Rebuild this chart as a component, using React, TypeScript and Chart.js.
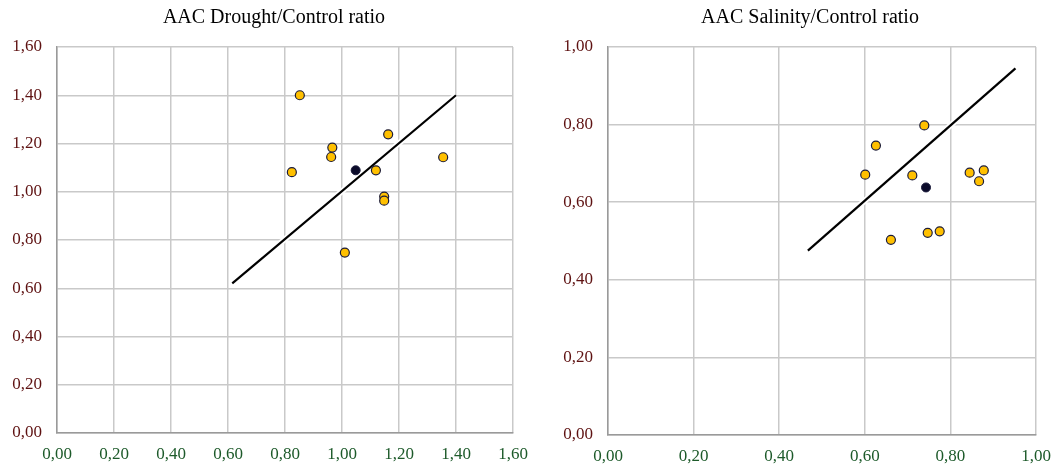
import React, { useEffect, useRef } from 'react';
import { Chart, registerables } from 'chart.js';

Chart.register(...registerables);

// ---------- Data ----------
const droughtTitle = 'AAC Drought/Control ratio';
const droughtX = [0.852, 1.162, 0.966, 0.962, 0.824, 1.119, 1.355, 1.148, 1.148, 1.01];
const droughtY = [1.4, 1.238, 1.183, 1.144, 1.081, 1.089, 1.143, 0.98, 0.963, 0.748];
const droughtMeanX = [1.048];
const droughtMeanY = [1.089];
const droughtTrendX = [0.615, 1.4];
const droughtTrendY = [0.62, 1.4];
const droughtTicks = [0, 0.2, 0.4, 0.6, 0.8, 1.0, 1.2, 1.4, 1.6];

const salinityTitle = 'AAC Salinity/Control ratio';
const salinityX = [0.739, 0.626, 0.601, 0.711, 0.845, 0.878, 0.867, 0.661, 0.747, 0.775];
const salinityY = [0.798, 0.746, 0.671, 0.669, 0.676, 0.682, 0.654, 0.503, 0.521, 0.525];
const salinityMeanX = [0.743];
const salinityMeanY = [0.638];
const salinityTrendX = [0.467, 0.952];
const salinityTrendY = [0.475, 0.945];
const salinityTicks = [0, 0.2, 0.4, 0.6, 0.8, 1.0];

const SERIF = "'Liberation Serif', 'Times New Roman', serif";

const zip = (xs: number[], ys: number[]) => xs.map((x, i) => ({ x, y: ys[i] }));
const fmt = (v: number) => Number(v).toFixed(2).replace('.', ',');

type PanelProps = {
  left: number;
  width: number;
  title: string;
  titleX: number;
  xs: number[];
  ys: number[];
  mx: number[];
  my: number[];
  tx: number[];
  ty: number[];
  ticks: number[];
  padR: number;
  yAxisW: number;
  xAxisH: number;
};

function Panel(p: PanelProps) {
  const ref = useRef<HTMLCanvasElement | null>(null);
  useEffect(() => {
    if (!ref.current) return;
    const max = p.ticks[p.ticks.length - 1];
    const titlePlugin = {
      id: 'panelTitle',
      afterDraw(chart: any) {
        const ctx = chart.ctx;
        ctx.save();
        ctx.font = `normal 20px ${SERIF}`;
        ctx.fillStyle = '#000000';
        ctx.textAlign = 'center';
        ctx.textBaseline = 'alphabetic';
        ctx.fillText(p.title, p.titleX, 23);
        ctx.restore();
      },
    };
    const chart = new Chart(ref.current, {
      type: 'scatter',
      data: {
        datasets: [
          {
            data: zip(p.mx, p.my),
            backgroundColor: '#0b0b2a',
            borderColor: '#1a1a3a',
            borderWidth: 1,
            pointRadius: 4.5,
          },
          {
            data: zip(p.xs, p.ys),
            backgroundColor: '#FFC000',
            borderColor: '#1c1c38',
            borderWidth: 1.2,
            pointRadius: 4.5,
          },
          {
            data: zip(p.tx, p.ty),
            showLine: true,
            borderColor: '#000000',
            borderWidth: 2.2,
            pointRadius: 0,
          },
          {
            data: zip(p.tx, p.ty),
            showLine: true,
            borderColor: '#ffffff',
            borderWidth: 6,
            pointRadius: 0,
          },
        ],
      },
      options: {
        responsive: false,
        animation: false,
        events: [],
        layout: { padding: { left: 0, right: p.padR, top: 47, bottom: 0 } },
        plugins: {
          legend: { display: false },
          tooltip: { enabled: false },
          title: { display: false },
        },
        scales: {
          x: {
            type: 'linear',
            min: 0,
            max,
            afterBuildTicks: (s: any) => {
              s.ticks = p.ticks.map((v) => ({ value: v }));
            },
            afterFit: (s: any) => {
              s.height = p.xAxisH;
              s.paddingLeft = 0;
              s.paddingRight = 0;
            },
            ticks: {
              callback: (v: any) => fmt(v),
              color: '#1d5a2a',
              font: { family: SERIF, size: 17 },
              padding: 11,
              maxRotation: 0,
              autoSkip: false,
            },
            grid: { color: '#c9c9c9', lineWidth: 1.5, drawTicks: false },
            border: { color: '#9a9a9a', width: 1.5 },
          },
          y: {
            type: 'linear',
            min: 0,
            max,
            afterBuildTicks: (s: any) => {
              s.ticks = p.ticks.map((v) => ({ value: v }));
            },
            afterFit: (s: any) => {
              s.width = p.yAxisW;
              s.paddingTop = 0;
              s.paddingBottom = 0;
            },
            ticks: {
              callback: (v: any) => fmt(v),
              color: '#5e1212',
              font: { family: SERIF, size: 17 },
              padding: 15,
              autoSkip: false,
            },
            grid: { color: '#c9c9c9', lineWidth: 1.5, drawTicks: false },
            border: { color: '#9a9a9a', width: 1.5 },
          },
        },
      },
      plugins: [titlePlugin],
    } as any);
    return () => chart.destroy();
  }, []);
  return (
    <div style={{ position: 'absolute', left: p.left, top: 0, width: p.width, height: 465 }}>
      <canvas ref={ref} width={p.width} height={465} style={{ width: p.width, height: 465, display: 'block' }} />
    </div>
  );
}

export default function App() {
  return (
    <div style={{ position: 'absolute', left: 0, top: 0, width: 1052, height: 465, background: '#ffffff', overflow: 'hidden' }}>
      <Panel
        left={0}
        width={530}
        title={droughtTitle}
        titleX={274}
        xs={droughtX}
        ys={droughtY}
        mx={droughtMeanX}
        my={droughtMeanY}
        tx={droughtTrendX}
        ty={droughtTrendY}
        ticks={droughtTicks}
        padR={17}
        yAxisW={57}
        xAxisH={32}
      />
      <Panel
        left={530}
        width={522}
        title={salinityTitle}
        titleX={280}
        xs={salinityX}
        ys={salinityY}
        mx={salinityMeanX}
        my={salinityMeanY}
        tx={salinityTrendX}
        ty={salinityTrendY}
        ticks={salinityTicks}
        padR={16}
        yAxisW={78}
        xAxisH={30}
      />
    </div>
  );
}
